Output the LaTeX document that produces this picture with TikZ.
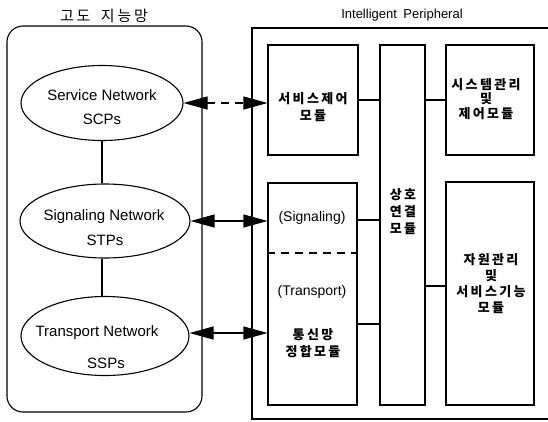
\documentclass[tikz,border=0pt]{standalone}
\usepackage{fontspec}
\setmainfont{Liberation Sans}
\newfontfamily\kr[LetterSpace=18]{Noto Sans CJK KR}
\usetikzlibrary{shapes.geometric,arrows.meta}

\begin{document}
\begin{tikzpicture}[x=1pt, y=-1pt, line width=1.1pt,
netnode/.style={ellipse, draw, minimum width=166pt, minimum height=75pt, inner sep=0pt},
modbox/.style={rectangle, draw, inner sep=0pt},
krtext/.style={align=center, font=\kr\bfseries\fontsize{13}{17}\selectfont},
entext/.style={font=\fontsize{15}{18}\selectfont},
linkarrow/.style={{Triangle[length=24pt,width=13pt]}-{Triangle[length=24pt,width=13pt]}},
]

    \useasboundingbox (0,0) rectangle (548,421);

    \node [modbox, rounded corners=16pt, minimum width=195pt, minimum height=386pt] (ain) at (104.5,219) {};
    \node [krtext, font=\kr\fontsize{15}{17}\selectfont] (aintitle) at (104,16) {고도\hspace{0.7em}지능망};

    \node [netnode, minimum width=162pt] (sn) at (102,103) {};
    \node [netnode, minimum width=170pt, minimum height=74pt] (gn) at (105,221) {};
    \node [netnode, minimum width=168pt, minimum height=79pt] (tn) at (105,336) {};

    \node [entext] (snlab) at (102,95) {Service Network};
    \node [entext] (scplab) at (102,119) {SCPs};
    \node [entext] (gnlab) at (104,217) {Signaling Network};
    \node [entext] (stplab) at (105,240) {STPs};
    \node [entext] (tnlab) at (97,333) {Transport Network};
    \node [entext] (ssplab) at (106,363) {SSPs};

    \draw (sn.south) -- (sn.south |- gn.north);
    \draw (sn.south |- gn.south) -- (sn.south |- tn.north);

    \draw (548,28) -- (252,28) -- (252,419) -- (548,419);
    \node [font=\fontsize{13}{15}\selectfont] (iptitle) at (402,15) {Intelligent\hspace{0.5em}Peripheral};

    \node [modbox, minimum width=90pt, minimum height=110pt] (sc) at (313,100) {};
    \node [modbox, minimum width=45pt, minimum height=360pt] (ic) at (402.5,225) {};
    \node [modbox, minimum width=88pt, minimum height=110pt] (sm) at (490,100) {};
    \node [modbox, minimum width=88pt, minimum height=223pt] (rm) at (490,293.5) {};
    \node [modbox, minimum width=89pt, minimum height=222pt] (nb) at (312.5,294) {};

    \node [krtext] (sclab) at (313,107) {서비스제어\\모듈};
    \node [krtext] (iclab) at (403,212) {상호\\연결\\모듈};
    \node [krtext, font=\kr\bfseries\fontsize{13}{14.5}\selectfont] (smlab) at (486,99) {시스템관리\\및\\제어모듈};
    \node [krtext, font=\kr\bfseries\fontsize{13}{16}\selectfont] (rmlab) at (491,284) {자원관리\\및\\서비스기능\\모듈};
    \node [font=\fontsize{14}{17}\selectfont] (siglab) at (312,218) {(Signaling)};
    \node [font=\fontsize{14}{17}\selectfont] (trlab) at (312,292) {(Transport)};
    \node [krtext] (nblab) at (313,343) {통신망\\정합모듈};

    \draw [dash pattern=on 8pt off 6pt] ([yshift=41pt]nb.west) -- ([yshift=41pt]nb.east);

    \draw [linkarrow, dash pattern=on 8pt off 6pt] (sn.east) -- (sn.east -| sc.west);
    \draw [linkarrow] (gn.east) -- (gn.east -| nb.west);
    \draw [linkarrow] ([yshift=3pt]tn.east) -- ([yshift=3pt]tn.east -| nb.west);

    \path ([yshift=74pt]nb.east) coordinate (nbs) ([yshift=-30pt]nb.east) coordinate (nbt);
    \path ([yshift=7.5pt]rm.west) coordinate (rmin);
    \draw (sc.east) -- (sc.east -| ic.west);
    \draw (sm.west) -- (sm.west -| ic.east);
    \draw (nbs) -- (nbs -| ic.west);
    \draw (nbt) -- (nbt -| ic.west);
    \draw (rmin) -- (rmin -| ic.east);

\end{tikzpicture}
\end{document}
